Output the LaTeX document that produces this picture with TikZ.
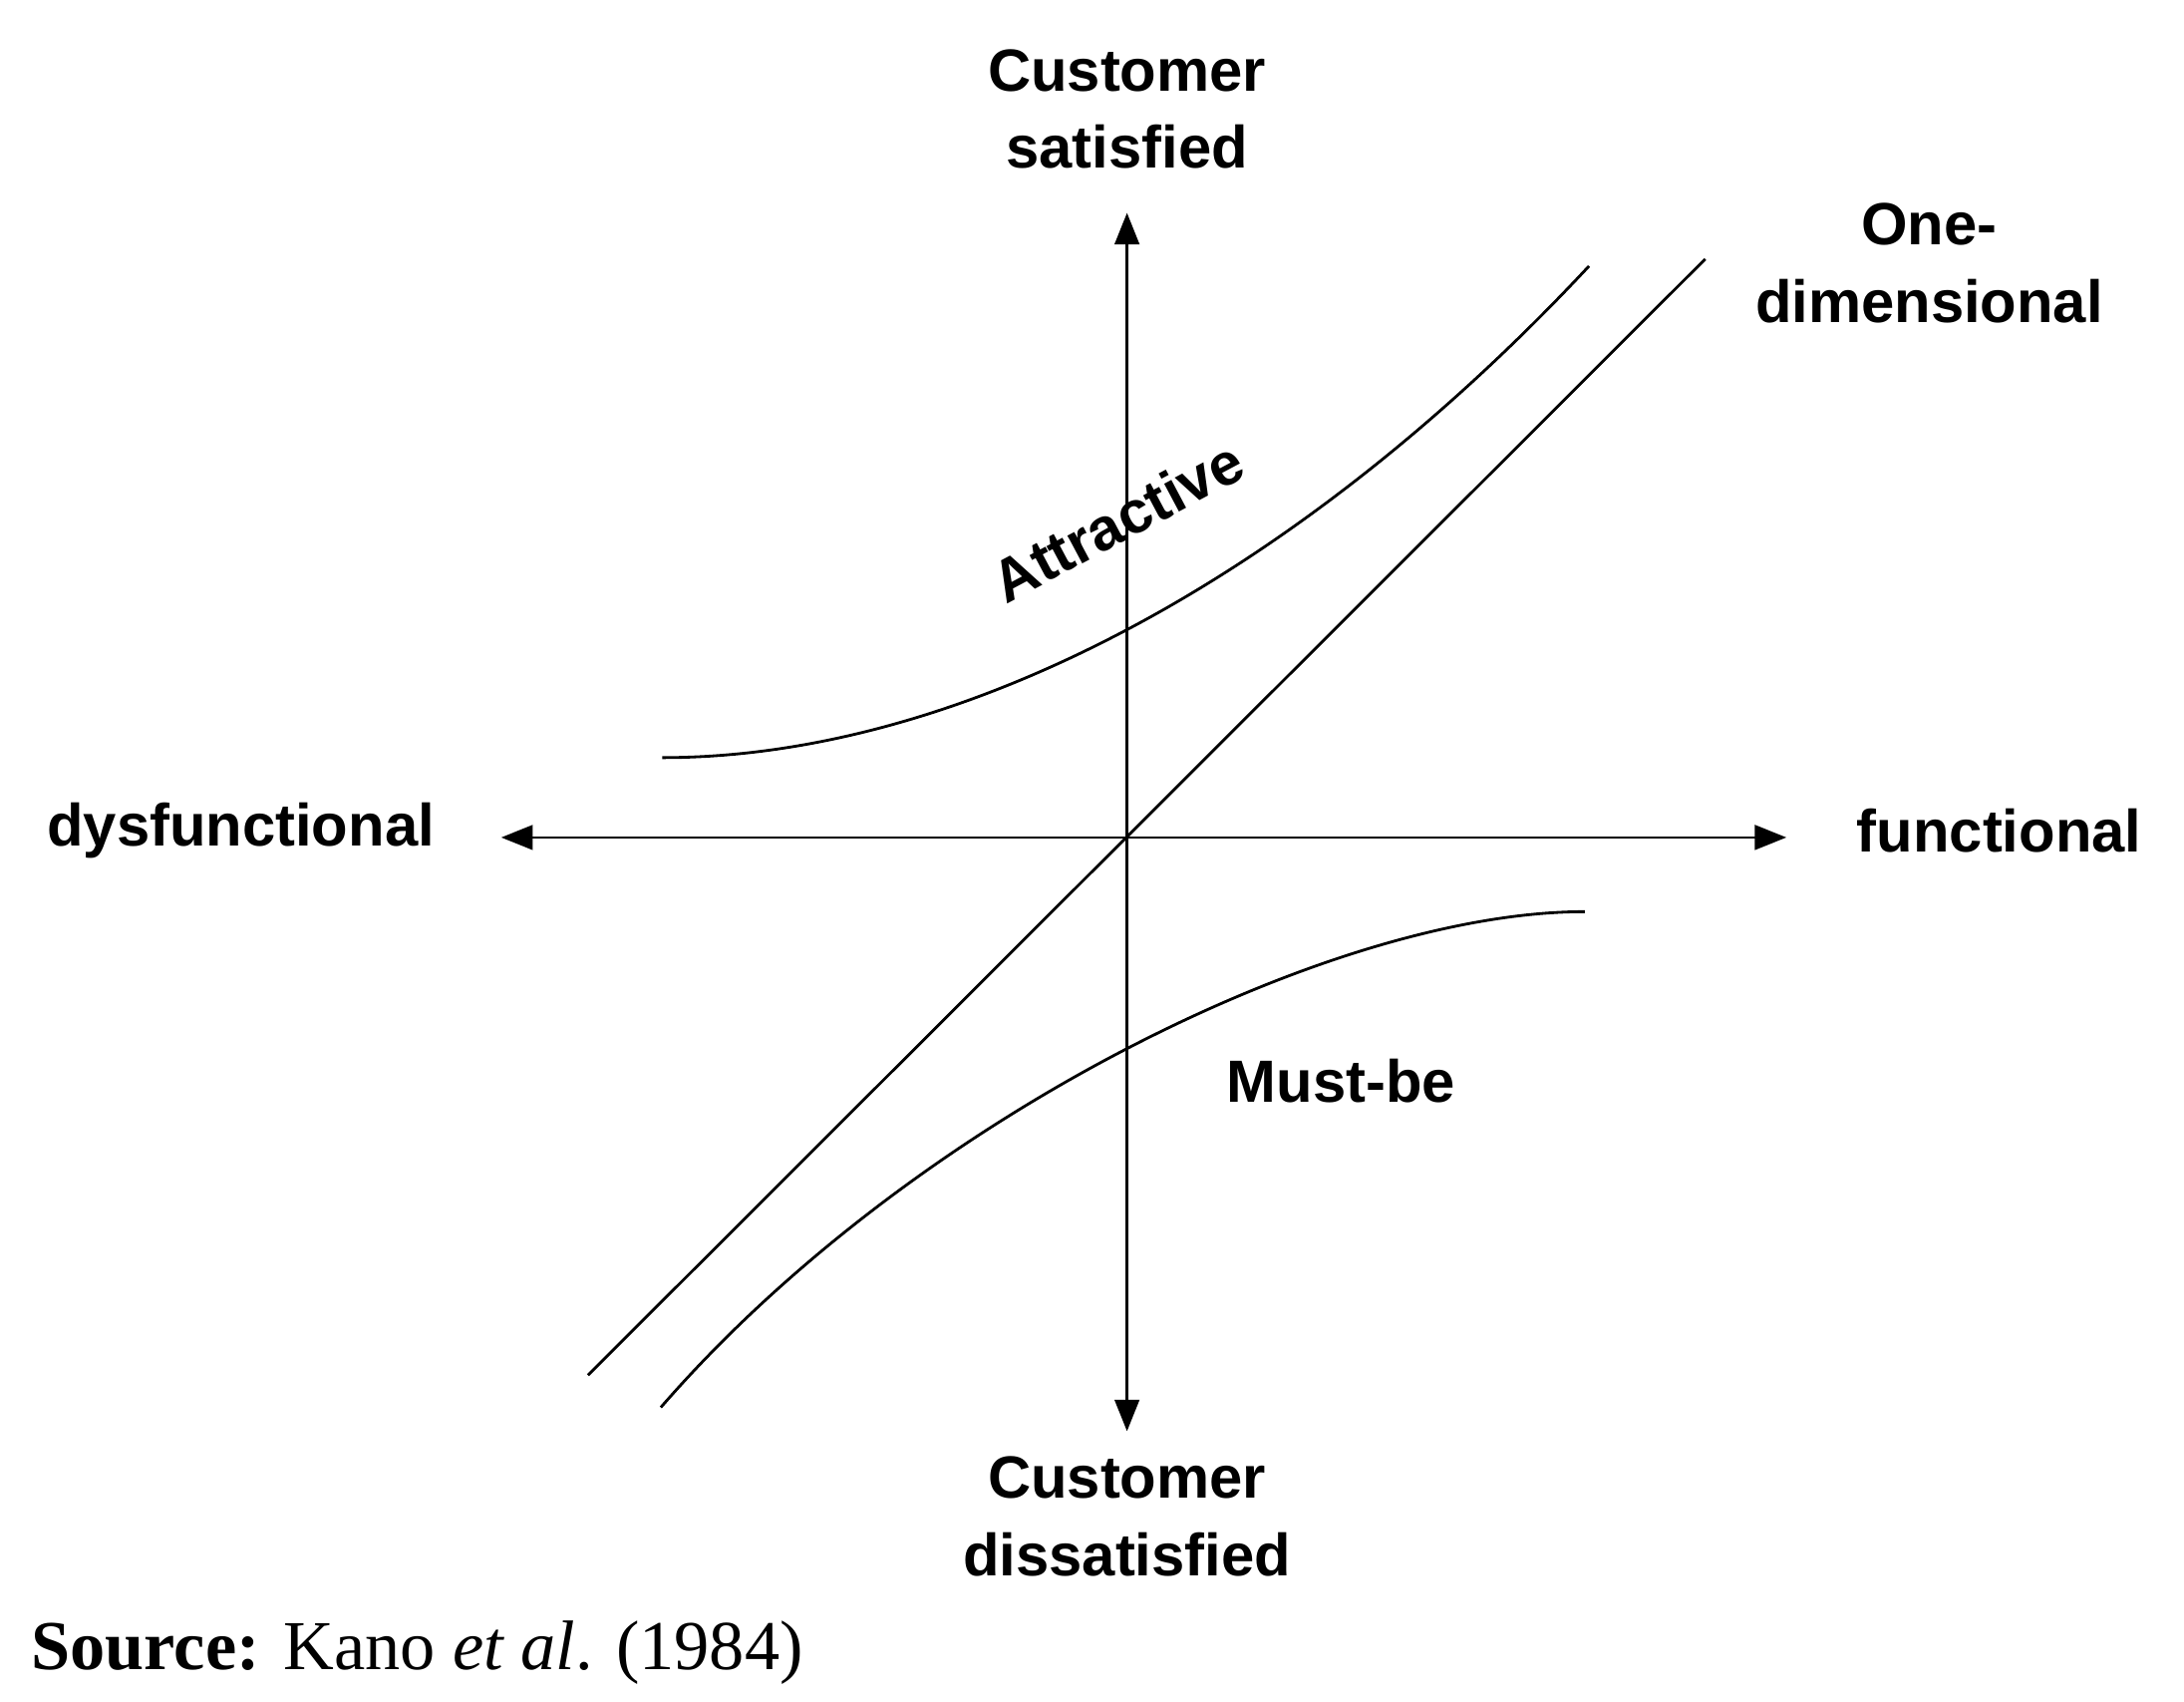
\documentclass[tikz,border=0pt]{standalone}
\usepackage{fontspec}
\setmainfont{Liberation Sans}
\newfontfamily\serifsrc{Liberation Serif}
\usetikzlibrary{arrows.meta}
\begin{document}
\begin{tikzpicture}[x=0.014045cm,y=-0.014045cm,
  lab/.style={font=\fontsize{17}{22}\selectfont\bfseries,align=center,inner sep=0},
  ax/.style={line width=0.8pt,-{Triangle[length=9pt,width=7pt]}},
  crv/.style={line width=0.8pt}]
\useasboundingbox (0,0) rectangle (1560,1215);
\coordinate (o) at (805,598);
\coordinate (up) at (805,152);
\coordinate (dn) at (805,1022);
\coordinate (lf) at (358,598);
\coordinate (rt) at (1276,598);
\draw[ax] (o) -- (up);
\draw[ax] (o) -- (dn);
\draw[ax] (o) -- (lf);
\draw[ax] (o) -- (rt);
\coordinate (d1) at (420,982);
\coordinate (d2) at (1218,185);
\draw[crv] (d1) -- (d2);
\coordinate (a1) at (473,541);
\coordinate (a2) at (1135,190);
\draw[crv] (a1) .. controls (680,541) and (920,420) .. (a2);
\coordinate (m1) at (472,1005);
\coordinate (m2) at (1132,651);
\draw[crv] (m1) .. controls (650,800) and (950,651) .. (m2);
\node[lab] (cs) at (805,78) {Customer\\satisfied};
\node[lab] (cd) at (805,1083) {Customer\\dissatisfied};
\node[lab] (od) at (1378,188) {One-\\dimensional};
\node[lab] (df) at (172,593) {dysfunctional};
\node[lab] (fn) at (1428,593) {functional};
\node[lab,rotate=28] (at) at (798,372) {Attractive};
\node[lab] (mb) at (958,772) {Must-be};
\node[anchor=west,inner sep=0,font=\serifsrc\fontsize{20}{24}\selectfont] (src) at (22,1180) {\textbf{Source:} Kano \textit{et al}. (1984)};
\end{tikzpicture}
\end{document}
